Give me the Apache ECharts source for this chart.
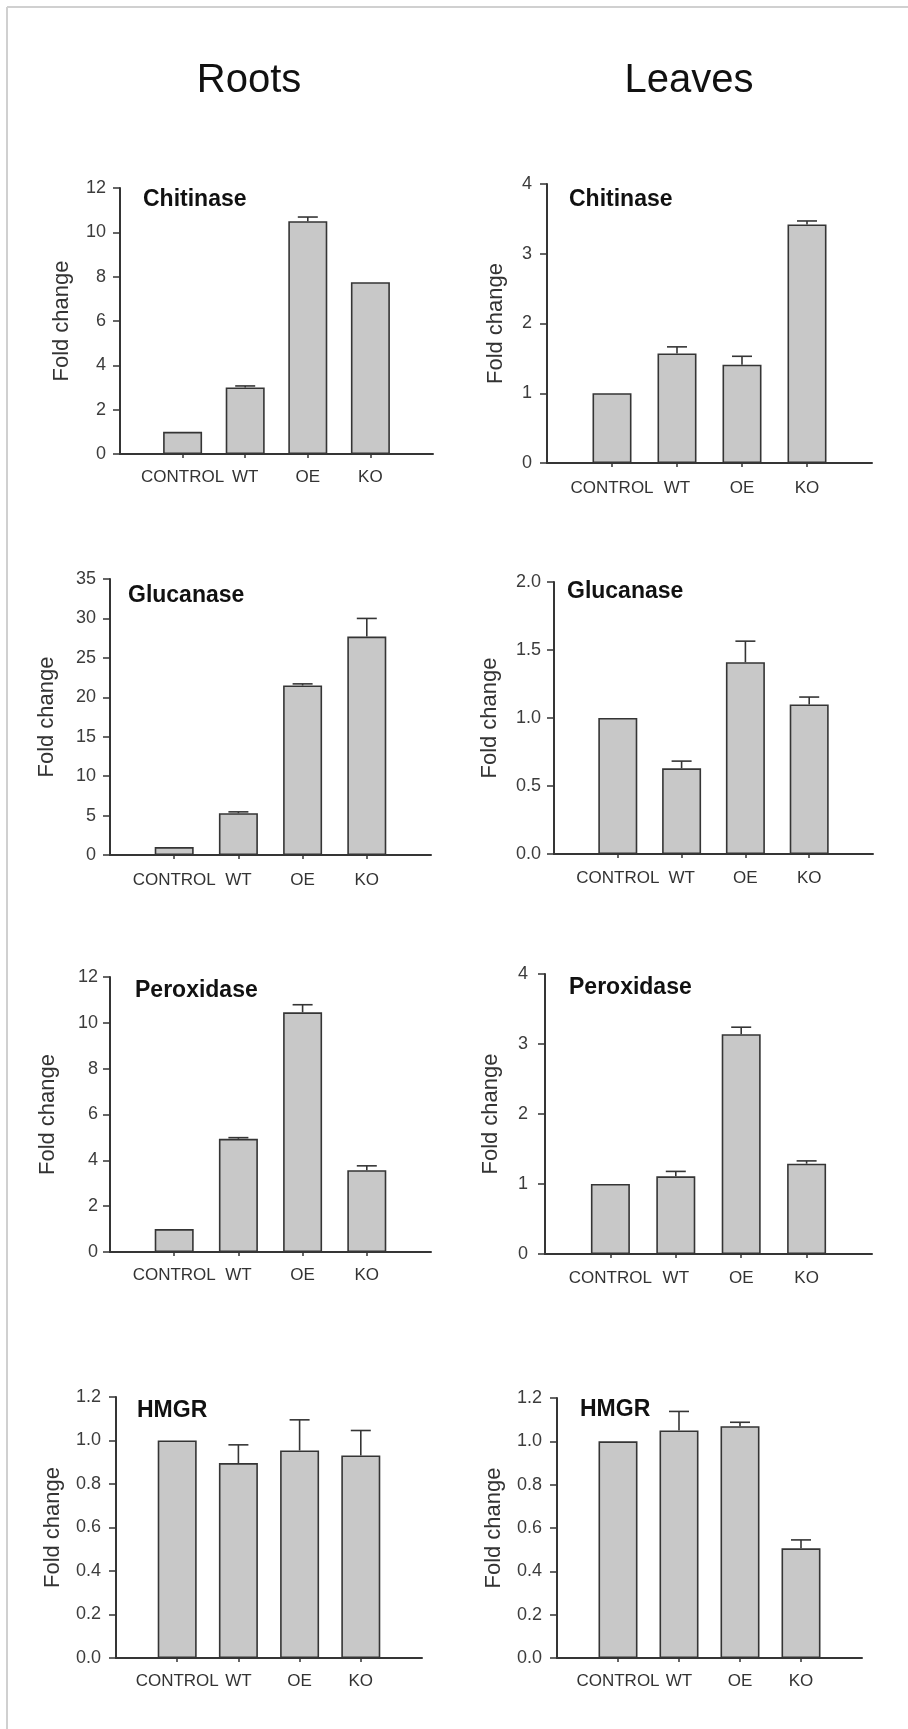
<!DOCTYPE html>
<html>
<head>
<meta charset="utf-8">
<script src="https://cdn.jsdelivr.net/npm/echarts@6.0.0/dist/echarts.min.js"></script>
<style>
  html, body { margin: 0; padding: 0; background: #fff; }
  #chart { width: 908px; height: 1729px; }
</style>
</head>
<body>
<div id="chart"></div>
<script>
// Groups on the x axis
const categories = ['CONTROL', 'WT', 'OE', 'KO'];

// Fold change (mean) and upper error bar
const rootsChitinase = [1.0, 3.0, 10.5, 7.75];
const rootsChitinaseErr = [0, 0.07, 0.19, 0];
const leavesChitinase = [1.0, 1.57, 1.41, 3.42];
const leavesChitinaseErr = [0, 0.095, 0.12, 0.05];

const rootsGlucanase = [1.0, 5.3, 21.5, 27.7];
const rootsGlucanaseErr = [0, 0.17, 0.2, 2.3];
const leavesGlucanase = [1.0, 0.63, 1.41, 1.1];
const leavesGlucanaseErr = [0, 0.053, 0.155, 0.054];

const rootsPeroxidase = [1.0, 4.94, 10.46, 3.57];
const rootsPeroxidaseErr = [0, 0.05, 0.33, 0.19];
const leavesPeroxidase = [1.0, 1.11, 3.14, 1.29];
const leavesPeroxidaseErr = [0, 0.07, 0.1, 0.04];

const rootsHmgr = [1.0, 0.896, 0.954, 0.931];
const rootsHmgrErr = [0, 0.084, 0.141, 0.115];
const leavesHmgr = [1.0, 1.05, 1.07, 0.506];
const leavesHmgrErr = [0, 0.088, 0.018, 0.039];

// y-axis scales per gene: [max, interval, decimals]
const chitinaseRootsAxis = [12, 2, 0];
const chitinaseLeavesAxis = [4, 1, 0];
const glucanaseRootsAxis = [35, 5, 0];
const glucanaseLeavesAxis = [2, 0.5, 1];
const peroxidaseRootsAxis = [12, 2, 0];
const peroxidaseLeavesAxis = [4, 1, 0];
const hmgrRootsAxis = [1.2, 0.2, 1];
const hmgrLeavesAxis = [1.2, 0.2, 1];

const FONT = '"Liberation Sans", Arial, sans-serif';
const INK = '#353535';
const BAR_FILL = '#c8c8c8';

// Layout for each of the 8 small charts (pixel positions measured on the figure)
const panels = [
  { title: 'Chitinase', values: rootsChitinase, errors: rootsChitinaseErr, axis: chitinaseRootsAxis,
    grid: { left: 120, top: 188, width: 313, height: 266 }, titleAt: [143, 201], nameGap: 47, yMargin: 14, xMargin: 15 },
  { title: 'Chitinase', values: leavesChitinase, errors: leavesChitinaseErr, axis: chitinaseLeavesAxis,
    grid: { left: 547, top: 184, width: 325, height: 279 }, titleAt: [569, 201], nameGap: 40, yMargin: 15, xMargin: 17 },
  { title: 'Glucanase', values: rootsGlucanase, errors: rootsGlucanaseErr, axis: glucanaseRootsAxis,
    grid: { left: 110, top: 579, width: 321, height: 276 }, titleAt: [128, 597], nameGap: 52, yMargin: 14, xMargin: 17 },
  { title: 'Glucanase', values: leavesGlucanase, errors: leavesGlucanaseErr, axis: glucanaseLeavesAxis,
    grid: { left: 554, top: 582, width: 319, height: 272 }, titleAt: [567, 593], nameGap: 53, yMargin: 13, xMargin: 16 },
  { title: 'Peroxidase', values: rootsPeroxidase, errors: rootsPeroxidaseErr, axis: peroxidaseRootsAxis,
    grid: { left: 110, top: 977, width: 321, height: 275 }, titleAt: [135, 992], nameGap: 51, yMargin: 12, xMargin: 15 },
  { title: 'Peroxidase', values: leavesPeroxidase, errors: leavesPeroxidaseErr, axis: peroxidaseLeavesAxis,
    grid: { left: 545, top: 974, width: 327, height: 280 }, titleAt: [569, 989], nameGap: 43, yMargin: 17, xMargin: 16 },
  { title: 'HMGR', values: rootsHmgr, errors: rootsHmgrErr, axis: hmgrRootsAxis,
    grid: { left: 116, top: 1397, width: 306, height: 261 }, titleAt: [137, 1412], nameGap: 52, yMargin: 15, xMargin: 15 },
  { title: 'HMGR', values: leavesHmgr, errors: leavesHmgrErr, axis: hmgrLeavesAxis,
    grid: { left: 557, top: 1398, width: 305, height: 260 }, titleAt: [580, 1411], nameGap: 52, yMargin: 15, xMargin: 15 },
];

// Blank slots at both ends so the four bars sit at 1/5 .. 4/5 of the axis
const xCategories = [''].concat(categories, ['']);

const chart = echarts.init(document.getElementById('chart'), null, { renderer: 'canvas' });

const grids = [], xAxes = [], yAxes = [], series = [], graphics = [];

panels.forEach((p, i) => {
  const [max, interval, decimals] = p.axis;
  grids.push(p.grid);
  xAxes.push({
    type: 'category',
    gridIndex: i,
    data: xCategories,
    boundaryGap: false,
    axisLine: { lineStyle: { color: INK, width: 2 } },
    axisTick: {
      length: 4,
      interval: (idx, val) => val !== '',
      lineStyle: { color: INK, width: 1.5 },
    },
    axisLabel: {
      interval: 0,
      margin: p.xMargin,
      color: '#333',
      fontFamily: FONT,
      fontSize: 17,
    },
    splitLine: { show: false },
  });
  yAxes.push({
    type: 'value',
    gridIndex: i,
    min: 0,
    max: max,
    interval: interval,
    name: 'Fold change',
    nameLocation: 'middle',
    nameRotate: 90,
    nameGap: p.nameGap,
    nameTextStyle: { color: '#333', fontFamily: FONT, fontSize: 22 },
    axisLine: { show: true, lineStyle: { color: INK, width: 2 } },
    axisTick: { show: true, length: 7, lineStyle: { color: INK, width: 1.5 } },
    axisLabel: {
      margin: p.yMargin,
      color: '#3c3c3c',
      fontFamily: FONT,
      fontSize: 18,
      formatter: (v) => v.toFixed(decimals),
    },
    splitLine: { show: false },
  });
  series.push({
    type: 'bar',
    xAxisIndex: i,
    yAxisIndex: i,
    barWidth: 39,
    data: ['-'].concat(p.values, ['-']),
    itemStyle: { color: BAR_FILL, borderColor: INK, borderWidth: 1.6 },
    silent: true,
    z: 2,
  });
  // Upper error bars: stem from the bar top plus a short cap
  series.push({
    type: 'custom',
    xAxisIndex: i,
    yAxisIndex: i,
    silent: true,
    z: 3,
    data: p.values.map((v, k) => [k + 1, v, p.errors[k]]),
    renderItem: (params, api) => {
      const err = api.value(2);
      if (!err) return null;
      const base = api.coord([api.value(0), api.value(1)]);
      const top = api.coord([api.value(0), api.value(1) + err]);
      const style = { stroke: INK, lineWidth: 1.6 };
      return {
        type: 'group',
        children: [
          { type: 'line', shape: { x1: base[0], y1: base[1], x2: top[0], y2: top[1] }, style },
          { type: 'line', shape: { x1: top[0] - 10, y1: top[1], x2: top[0] + 10, y2: top[1] }, style },
        ],
      };
    },
  });
  graphics.push({
    type: 'text',
    left: p.titleAt[0],
    top: p.titleAt[1] - 13,
    style: { text: p.title, font: 'bold 23px ' + FONT, fill: '#111' },
  });
});

// Column headings
graphics.push({
  type: 'text', x: 249, y: 81,
  style: { text: 'Roots', font: '40px ' + FONT, fill: '#111', align: 'center', verticalAlign: 'middle' },
});
graphics.push({
  type: 'text', x: 689, y: 81,
  style: { text: 'Leaves', font: '40px ' + FONT, fill: '#111', align: 'center', verticalAlign: 'middle' },
});
// Light frame along the top and left edge
graphics.push({
  type: 'line', shape: { x1: 7, y1: 7, x2: 908, y2: 7 }, style: { stroke: '#d0d0d0', lineWidth: 2 },
});
graphics.push({
  type: 'line', shape: { x1: 7, y1: 7, x2: 7, y2: 1729 }, style: { stroke: '#d0d0d0', lineWidth: 2 },
});

chart.setOption({
  animation: false,
  backgroundColor: '#fff',
  grid: grids,
  xAxis: xAxes,
  yAxis: yAxes,
  series: series,
  graphic: graphics,
});
</script>
</body>
</html>
